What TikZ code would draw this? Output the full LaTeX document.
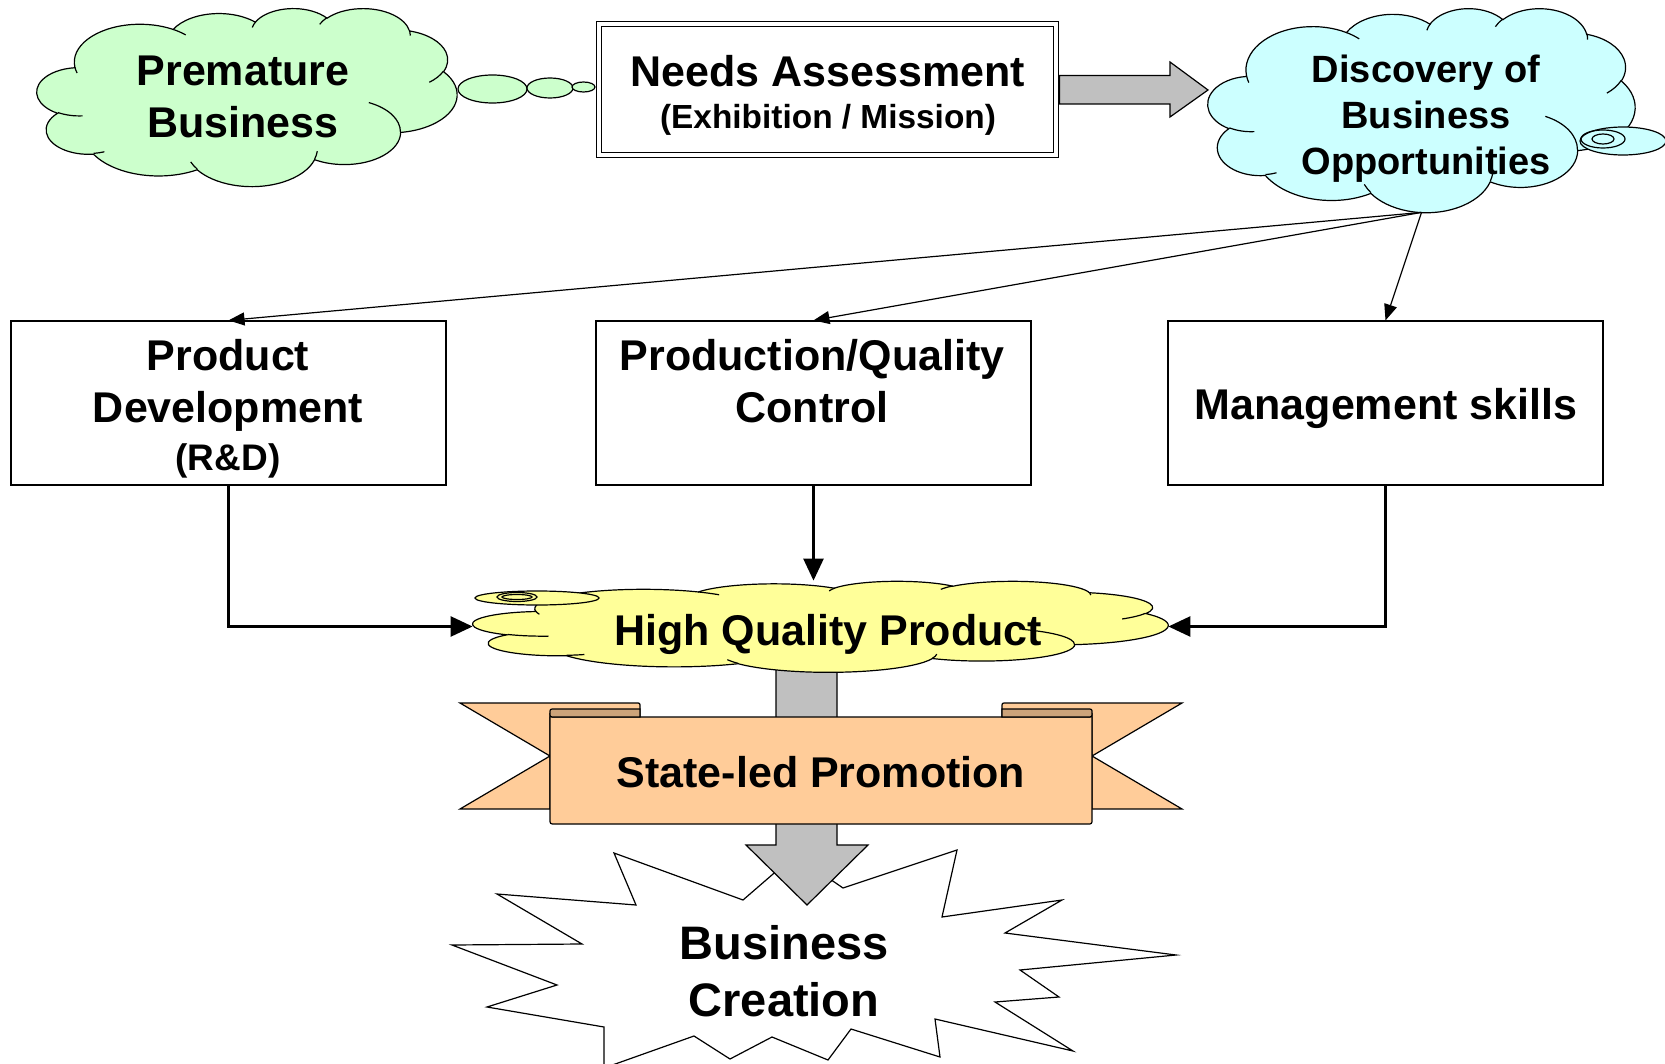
\documentclass[tikz,border=0pt]{standalone}
\usepackage{fontspec}
\setmainfont{Liberation Sans}
\usepackage{tikz}
\usetikzlibrary{arrows.meta, calc}

\definecolor{cloudgreen}{RGB}{204,255,204}
\definecolor{cloudcyan}{RGB}{204,255,255}
\definecolor{cloudyellow}{RGB}{255,255,153}
\definecolor{ribbon}{RGB}{255,204,153}
\definecolor{ribbondark}{RGB}{204,163,122}
\definecolor{arrowgray}{RGB}{192,192,192}

\tikzset{
  % one puff: ellipse radii, start angle and sweep as seen from the centre
  ooarc/.style n args={4}{insert path={arc[x radius=#1, y radius=#2,
      start angle={atan2(#1*sin(#3),#2*cos(#3))},
      delta angle={mod(atan2(#1*sin(#3+#4),#2*cos(#3+#4))-atan2(#1*sin(#3),#2*cos(#3))+720,360)}]}},
  % cloud outline in a 432 x 432 box
  cloudpath/.style={insert path={(39,143.7)
      [ooarc={67.53}{91.90}{-190.4875}{123.7805}]
      [ooarc={53.33}{72.67}{-144.1024}{89.9452}]
      [ooarc={43.65}{59.45}{-145.8079}{99.7230}]
      [ooarc={48.57}{65.95}{-130.9861}{117.2417}]
      [ooarc={53.33}{72.73}{-78.7089}{109.0269}]
      [ooarc={67.75}{92.20}{-46.2673}{130.2690}]
      [ooarc={57.85}{78.67}{0.6250}{114.0333}]
      [ooarc={67.52}{92.15}{22.4516}{115.1726}]
      [ooarc={77.20}{105.43}{66.2426}{75.7110}]
      [ooarc={43.60}{59.18}{-274.9421}{146.7356}]
      [ooarc={43.45}{59.45}{-246.8285}{152.5189}] -- cycle}},
  % the small creases inside the cloud
  cloudcreases/.style={insert path={
      (46.93,261.77) [ooarc={43.45}{59.45}{86.742}{26.4295}]
      (69.28,348.99) [ooarc={43.60}{59.18}{73.6105}{11.4475}]
      (164.78,390.90) [ooarc={67.52}{92.15}{137.6242}{14.0811}]
      (288.27,347.51) [ooarc={67.52}{92.15}{6.4533}{15.9984}]
      (341.29,229.54) [ooarc={57.85}{78.67}{-70.2924}{70.9174}]
      (417.98,153.54) [ooarc={53.33}{72.73}{30.3180}{27.7515}]
      (383.24,54.26) [ooarc={48.57}{65.95}{-13.7443}{14.8589}]
      (290.78,39.52) [ooarc={48.57}{65.95}{-149.1815}{18.1954}]
      (221.41,47.20) [ooarc={43.65}{59.45}{-163.4943}{17.6864}]
      (140.00,51.92) [ooarc={67.53}{91.90}{-66.7070}{12.3194}]
      (41.27,157.89) [ooarc={67.53}{91.90}{157.6544}{11.8582}]}},
  frame/.style={draw=none, inner sep=0pt},
  box/.style={draw, line width=0.6pt, minimum width=217.5pt, minimum height=82pt, inner sep=0pt},
  bigtxt/.style={font=\bfseries\fontsize{21.5}{26}\selectfont, align=center, inner sep=0pt},
  midtxt/.style={font=\bfseries\fontsize{19}{23}\selectfont, align=center, inner sep=0pt},
  hugetxt/.style={font=\bfseries\fontsize{23.5}{28.5}\selectfont, align=center, inner sep=0pt},
  thin arrow/.style={-{Triangle[length=8pt,width=6.5pt]}, line width=0.6pt},
  thick arrow/.style={-{Triangle[length=11pt,width=10pt]}, line width=1.3pt},
  outline/.style={draw, line width=0.6pt},
}

\begin{document}
\begin{tikzpicture}[x=0.5pt, y=-0.5pt]
    \useasboundingbox (0,0) rectangle (1665,1064);

    % Starburst at the bottom, cut off by the page edge
    \begin{scope}
        \clip (0,0) rectangle (1665,1064);
        \draw[outline, fill=white] (614,853) -- (636,905) -- (497,894) -- (582,944) -- (452,945)
            -- (557,985) -- (487,1007) -- (604,1027) -- (604,1068) -- (694,1036) -- (730,1059)
            -- (772,1037) -- (828,1060) -- (851,1029) -- (940,1057) -- (935,1019) -- (1073,1051)
            -- (995,1002) -- (1059,997) -- (1020,970) -- (1176,955) -- (1005,933) -- (1062,900)
            -- (942,917) -- (957,850) -- (843,888) -- (795,855) -- (743,900) -- cycle;
    \end{scope}
    \node[hugetxt] (bc) at (784,971) {Business\\Creation};

    % Grey arrow down through the banner
    \draw[outline, fill=arrowgray] (776,650) -- (837,650) -- (837,845) -- (868,845)
        -- (807,905) -- (746,845) -- (776,845) -- cycle;

    % Banner: tails with their folds
    \draw[outline, fill=ribbon] (460,703) -- (636,703) .. controls (640,703) .. (640,707) -- (640,717)
        -- (550,717) -- (550,809) -- (460,809) -- (550,756) -- cycle;
    \draw[outline, fill=ribbon] (1182,703) -- (1006,703) .. controls (1002,703) .. (1002,707) -- (1002,717)
        -- (1092,717) -- (1092,809) -- (1182,809) -- (1092,756) -- cycle;
    % front band with rolled ends
    \draw[outline, fill=ribbon] (550,713) -- (550,819) .. controls (550,824) .. (555,824) -- (1087,824)
        .. controls (1092,824) .. (1092,819) -- (1092,713) .. controls (1092,717) .. (1087,717)
        -- (555,717) .. controls (550,717) .. (550,713) -- cycle;
    \draw[outline, fill=ribbondark] (550,713) .. controls (550,709) .. (555,709) -- (640,709) -- (640,717)
        -- (555,717) .. controls (550,717) .. (550,713) -- cycle;
    \draw[outline, fill=ribbondark] (1092,713) .. controls (1092,709) .. (1087,709) -- (1002,709) -- (1002,717)
        -- (1087,717) .. controls (1092,717) .. (1092,713) -- cycle;
    \node[bigtxt] (slp) at (821,772) {State-led Promotion};

    % Yellow cloud with its bubbles
    \node[frame, minimum width=347.5pt, minimum height=45.5pt] (hqp) at (820.5,626.5) {};
    \begin{scope}[shift={(473,581)}, xscale=695/432, yscale=91/432]
        \draw[outline, fill=cloudyellow, cloudpath];
        \draw[line width=0.6pt, cloudcreases];
    \end{scope}
    \draw[outline, fill=cloudyellow] (537,598) ellipse [x radius=62, y radius=7];
    \draw[line width=0.6pt] (517,597) ellipse [x radius=20, y radius=4.5];
    \draw[line width=0.6pt] (517,597) ellipse [x radius=15, y radius=2.5];
    \node[bigtxt] (hqp-text) at (828,634) {High Quality Product};

    % The three boxes
    \node[box] (pd) at (228.5,403) {};
    \node[box] (pq) at (813.5,403) {};
    \node[box] (ms) at (1385.5,403) {};
    \node[bigtxt] (pd-text) at (228,408.5) {Product\\Development\\[-2.2pt]{\fontsize{18.5}{22}\selectfont (R\&D)}};
    \node[bigtxt] (pq-text) at (812,381) {Production/Quality\\Control};
    \node[bigtxt] (ms-text) at (1386,408) {Management skills};

    % Green cloud and its bubbles
    \begin{scope}[shift={(37,8)}, xscale=420/432, yscale=178/432]
        \draw[outline, fill=cloudgreen, cloudpath];
        \draw[line width=0.6pt, cloudcreases];
    \end{scope}
    \draw[outline, fill=cloudgreen] (492.5,89) ellipse [x radius=34.5, y radius=14];
    \draw[outline, fill=cloudgreen] (550,88) ellipse [x radius=23, y radius=10];
    \draw[outline, fill=cloudgreen] (583.5,87) ellipse [x radius=11.5, y radius=5];
    \node[bigtxt] (pb) at (243,97) {Premature\\Business};

    % Double framed box
    \node[draw, double, line width=0.6pt, double distance=2pt, minimum width=228.3pt, minimum height=65.3pt] (needs) at (827.5,89.5) {};
    \node[bigtxt] (needs-text) at (828,95.5) {Needs Assessment\\[-4.7pt]{\fontsize{16.7}{20}\selectfont (Exhibition / Mission)}};

    % Cyan cloud and its bubbles
    \node[frame, minimum width=213.5pt, minimum height=102pt] (disc) at (1421.5,110) {};
    \begin{scope}[shift={(1208,8)}, xscale=427/432, yscale=204/432]
        \draw[outline, fill=cloudcyan, cloudpath];
        \draw[line width=0.6pt, cloudcreases];
    \end{scope}
    \draw[outline, fill=cloudcyan] (1623,141) ellipse [x radius=43, y radius=14];
    \draw[line width=0.6pt] (1603,139) ellipse [x radius=22, y radius=9];
    \draw[line width=0.6pt] (1603,139) ellipse [x radius=11, y radius=5];
    \node[midtxt] (disc-text) at (1426,119) {Discovery of\\Business\\Opportunities};

    % Grey arrow from the box to the cyan cloud
    \draw[outline, fill=arrowgray] ($(needs.east)+(3,-14)$) -- (1170,75.5) -- (1170,62) -- (1208,90)
        -- (1170,117) -- (1170,104) -- ($(needs.east)+(3,14.5)$) -- cycle;

    % Connectors
    \draw[thin arrow] (disc.south) -- (pd.north);
    \draw[thin arrow] (disc.south) -- (pq.north);
    \draw[thin arrow] (disc.south) -- (ms.north);
    \draw[thick arrow] (pd.south) |- (hqp.west);
    \draw[thick arrow] (pq.south) -- (pq.south |- hqp.north);
    \draw[thick arrow] (ms.south) |- (hqp.east);
\end{tikzpicture}
\end{document}
